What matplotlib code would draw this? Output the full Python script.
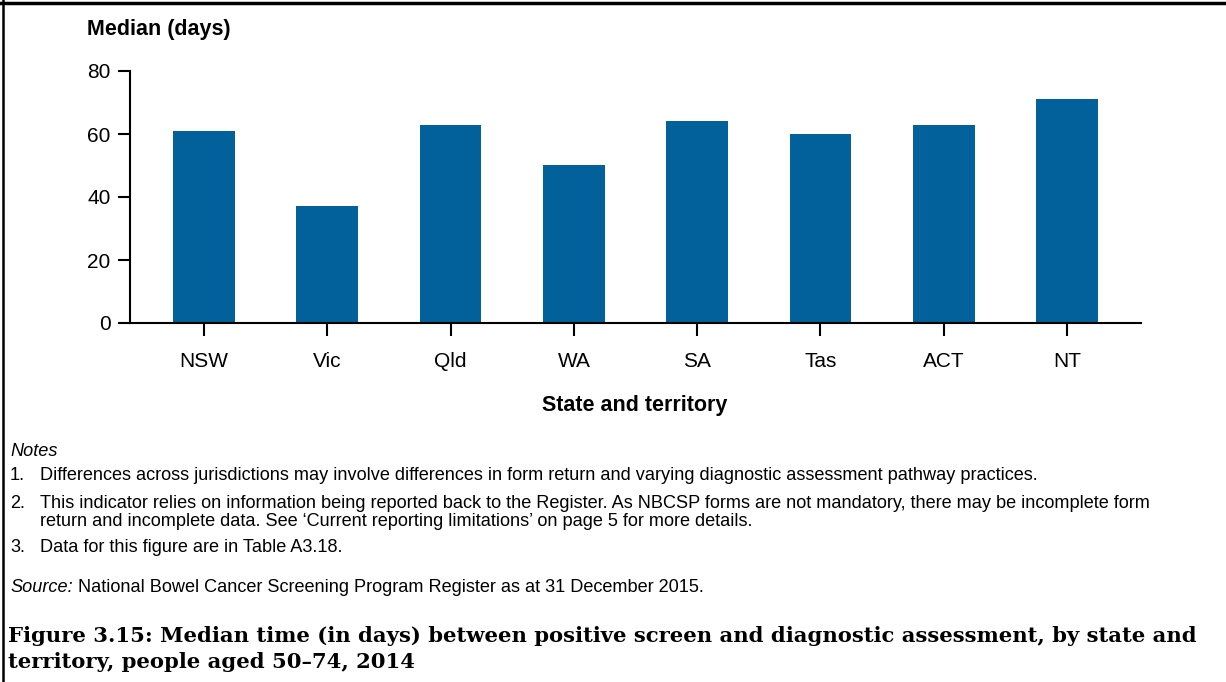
import matplotlib

matplotlib.use("Agg")
import matplotlib.pyplot as plt
from matplotlib.lines import Line2D

states = ["NSW", "Vic", "Qld", "WA", "SA", "Tas", "ACT", "NT"]
median_days = [61, 37, 63, 50, 64, 60, 63, 71]
y_ticks = [0, 20, 40, 60, 80]

notes = [
    ("1.", ["Differences across jurisdictions may involve differences in form return and varying diagnostic assessment pathway practices."]),
    ("2.", ["This indicator relies on information being reported back to the Register. As NBCSP forms are not mandatory, there may be incomplete form",
            "return and incomplete data. See \u2018Current reporting limitations\u2019 on page 5 for more details."]),
    ("3.", ["Data for this figure are in Table A3.18."]),
]
source_text = " National Bowel Cancer Screening Program Register as at 31 December 2015."
caption = ("Figure 3.15: Median time (in days) between positive screen and diagnostic assessment, by state and\n"
           "territory, people aged 50\u201374, 2014")

W, H = 1226, 682
plt.rcParams["font.family"] = ["Liberation Sans", "DejaVu Sans"]

fig = plt.figure(figsize=(W / 100, H / 100), dpi=100)


def fx(px):
    return px / W


def fy(py):
    return 1 - py / H


ax = fig.add_axes([fx(130), fy(323), fx(1141) - fx(130), fy(71) - fy(323)])
x = list(range(len(states)))
ax.bar(x, median_days, width=0.5, color="#02609a")
ax.set_xlim(-0.6, len(states) - 0.4)
ax.set_ylim(0, 80)
ax.set_yticks(y_ticks)
ax.set_xticks(x)
ax.set_xticklabels(states)
for side in ("top", "right"):
    ax.spines[side].set_visible(False)
for side in ("left", "bottom"):
    ax.spines[side].set_linewidth(1.5)
ax.tick_params(axis="y", length=9, width=1.5, labelsize=15, pad=5)
ax.tick_params(axis="x", length=9, width=1.5, labelsize=15, pad=12)

fig.text(fx(87), fy(29), "Median (days)", fontsize=15.5, fontweight="bold", va="center")
fig.text(fx(635), fy(406), "State and territory", fontsize=15.5, fontweight="bold",
         ha="center", va="center")

note_size = 13.1
fig.text(fx(10), fy(452), "Notes", fontsize=note_size, style="italic", va="center")
for (num, lines), py in zip(notes, (475, 504, 547)):
    fig.text(fx(10), fy(py), num, fontsize=note_size, va="center")
    for i, line in enumerate(lines):
        fig.text(fx(40), fy(py + 18 * i), line, fontsize=note_size, va="center")

src = fig.text(fx(10), fy(587), "Source:", fontsize=note_size, style="italic", va="center")
renderer = fig.canvas.get_renderer()
src_end = src.get_window_extent(renderer).x1
fig.text(src_end / W, fy(587), source_text, fontsize=note_size, va="center")

fig.text(fx(8), fy(649), caption, fontsize=15.2, fontweight="bold", va="center",
         family=["DejaVu Serif"], linespacing=1.35)

# frame (top and left edge of the cropped figure box)
fig.add_artist(Line2D([0, 1], [fy(3), fy(3)], color="black", lw=2.5, transform=fig.transFigure))
fig.add_artist(Line2D([fx(3), fx(3)], [0, 1], color="black", lw=1.8, transform=fig.transFigure))

fig.savefig("out.png", dpi=100)
